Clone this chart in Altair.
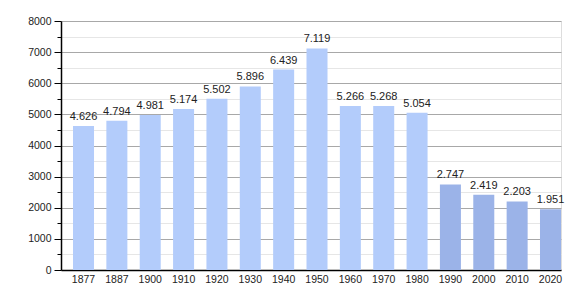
import altair as alt
import pandas as pd

years = ["1877", "1887", "1900", "1910", "1920", "1930", "1940", "1950",
         "1960", "1970", "1980", "1990", "2000", "2010", "2020"]
population = [4626, 4794, 4981, 5174, 5502, 5896, 6439, 7119,
              5266, 5268, 5054, 2747, 2419, 2203, 1951]
labels = ["4.626", "4.794", "4.981", "5.174", "5.502", "5.896", "6.439", "7.119",
          "5.266", "5.268", "5.054", "2.747", "2.419", "2.203", "1.951"]
group = ["old"] * 11 + ["new"] * 4

df = pd.DataFrame({"year": years, "pop": population, "label": labels, "group": group})

FONT = "Liberation Sans"

x_axis = alt.Axis(labelAngle=0, ticks=False, domainColor="#000", domainWidth=1.5,
                  labelFont=FONT, labelFontSize=10.5, labelColor="#222",
                  labelPadding=4, grid=False, labelOverlap=False)
y_axis = alt.Axis(values=list(range(0, 8001, 500)),
                  labelExpr="datum.value % 1000 === 0 ? datum.value : ''",
                  labelOverlap=False,
                  labelFont=FONT, labelFontSize=10.5, labelColor="#222",
                  labelPadding=3, domainColor="#000", domainWidth=1.5,
                  tickColor="#000",
                  tickSize={"condition": {"test": "datum.value % 1000 === 0", "value": 7}, "value": 4},
                  gridColor={"condition": {"test": "datum.value % 1000 === 0", "value": "#a8a8a8"}, "value": "#e6e6e6"},
                  gridWidth=1)
x_scale = alt.Scale(paddingInner=0.37, paddingOuter=0.18, align=1)
y_scale = alt.Scale(domain=[0, 8000], nice=False)

base = alt.Chart(df).encode(
    x=alt.X("year:N", sort=years, title=None, scale=x_scale, axis=x_axis),
    y=alt.Y("pop:Q", title=None, scale=y_scale, axis=y_axis),
)
bars = base.mark_bar().encode(
    color=alt.Color("group:N", legend=None,
                    scale=alt.Scale(domain=["old", "new"], range=["#b3ccfb", "#9bb3e8"])),
)
text = base.mark_text(baseline="bottom", dy=-4, font=FONT, fontSize=11, color="#222").encode(
    text="label:N",
)

chart = (bars + text).properties(
    width=500, height=249,
    autosize=alt.AutoSizeParams(type="none"),
    padding={"left": 61, "top": 21, "right": 19, "bottom": 30},
).configure_view(strokeWidth=0).configure(background="white")

chart.save("out.html", embed_options={"renderer": "svg", "actions": False})
